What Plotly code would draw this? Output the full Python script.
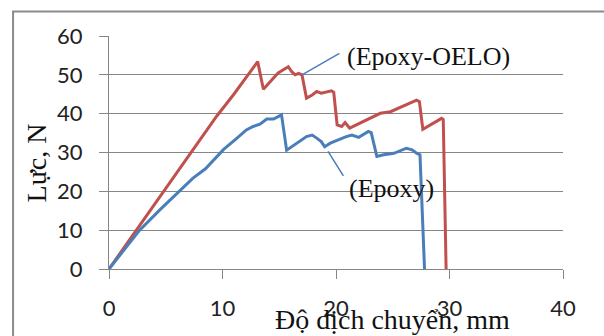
import plotly.graph_objects as go

# Force–displacement curves (displacement in mm, force in N)
oelo_x = [0, 2.4, 4.9, 6.1, 7.4, 8.5, 9.5, 11.0, 12.1, 13.1, 13.6, 14.5, 14.9, 15.8,
          16.1, 16.4, 16.7, 17.0, 17.4, 17.9, 18.3, 18.7, 19.2, 19.6, 19.8, 20.1,
          20.5, 20.8, 21.2, 23.9, 24.8, 27.1, 27.35, 27.65, 29.3, 29.45, 29.7]
oelo_y = [0, 10, 20.3, 25.3, 30.6, 35.2, 39.4, 45, 49.5, 53.4, 46.3, 49.4, 50.5, 52.1,
          50.8, 50.0, 50.4, 50.0, 44.0, 44.8, 45.7, 45.3, 45.7, 45.9, 45.5, 37.1,
          36.7, 37.7, 36.3, 40.1, 40.5, 43.5, 43.1, 36.0, 38.8, 38.5, 0]

epoxy_x = [0, 2.7, 4.5, 6.25, 7.4, 8.5, 10.1, 11.2, 12.1, 12.7, 13.3, 13.9, 14.5, 15.2,
           15.65, 17.4, 17.9, 18.3, 18.7, 19.0, 19.5, 20.9, 21.4, 22.0, 22.85, 23.1,
           23.6, 24.2, 25.1, 26.2, 26.7, 27.1, 27.4, 27.8]
epoxy_y = [0, 10, 15.3, 20.3, 23.4, 25.8, 30.8, 33.5, 35.8, 36.7, 37.3, 38.6, 38.6, 39.7,
           30.6, 34.1, 34.5, 33.7, 32.8, 31.5, 32.4, 34.1, 34.5, 33.9, 35.4, 35.1,
           29.0, 29.4, 29.8, 31.1, 30.7, 29.8, 29.4, 0]

x_ticks = [0, 10, 20, 30, 40]
y_ticks = [0, 10, 20, 30, 40, 50, 60]

RED = "#C0504D"
BLUE = "#4A7EBB"
GRID = "#868686"

fig = go.Figure()
fig.add_trace(go.Scatter(x=oelo_x, y=oelo_y, mode="lines", name="(Epoxy-OELO)",
                         line=dict(color=RED, width=3)))
fig.add_trace(go.Scatter(x=epoxy_x, y=epoxy_y, mode="lines", name="(Epoxy)",
                         line=dict(color=BLUE, width=3)))

tick_font = dict(family="Lato", size=22, color="#222222")
serif = "Liberation Serif"

fig.update_layout(
    width=604, height=336,
    margin=dict(l=109.3, r=41.3, t=36, b=66.7, autoexpand=False),
    paper_bgcolor="white", plot_bgcolor="white",
    showlegend=False,
    xaxis=dict(range=[0, 40], tickvals=x_ticks, showgrid=False, zeroline=False,
               showline=True, linecolor=GRID, linewidth=1,
               ticks="outside", ticklen=9, tickcolor=GRID, tickwidth=1,
               tickfont=tick_font, ticklabelstandoff=11),
    yaxis=dict(range=[0, 60], tickvals=y_ticks, showgrid=True, gridcolor=GRID,
               gridwidth=1, zeroline=False, showline=True, linecolor=GRID,
               linewidth=1, ticks="outside", ticklen=9, tickcolor=GRID,
               tickwidth=1, tickfont=tick_font, ticklabelstandoff=12),
    shapes=[
        # chart frame
        dict(type="rect", xref="paper", yref="paper", x0=-0.2113, x1=1.3,
             y0=-0.6, y1=1.105, line=dict(color="#8A8A8A", width=2), layer="below"),
        # leader lines for the series labels
        dict(type="line", xref="x", yref="y", x0=17.0, y0=50.0, x1=20.3, y1=55.5,
             line=dict(color=BLUE, width=1.5)),
        dict(type="line", xref="x", yref="y", x0=19.3, y0=30.3, x1=20.65, y1=24.0,
             line=dict(color=BLUE, width=1.5)),
    ],
    annotations=[
        dict(text="(Epoxy-OELO)", x=20.8, y=54.7, xref="x", yref="y",
             xanchor="left", yanchor="middle", showarrow=False,
             font=dict(family=serif, size=26, color="#111111")),
        dict(text="(Epoxy)", x=20.94, y=20.65, xref="x", yref="y",
             xanchor="left", yanchor="middle", showarrow=False,
             font=dict(family=serif, size=26, color="#111111")),
        dict(text="Lực, N", x=-0.1595, y=0.4556, xref="paper", yref="paper",
             xanchor="center", yanchor="middle", textangle=-90, showarrow=False,
             font=dict(family=serif, size=28, color="#111111")),
        dict(text="Độ dịch chuyển, mm", x=0.6235, y=-0.218, xref="paper",
             yref="paper", xanchor="center", yanchor="middle", showarrow=False,
             font=dict(family=serif, size=28, color="#111111")),
    ],
)

fig.write_html("out.html")
